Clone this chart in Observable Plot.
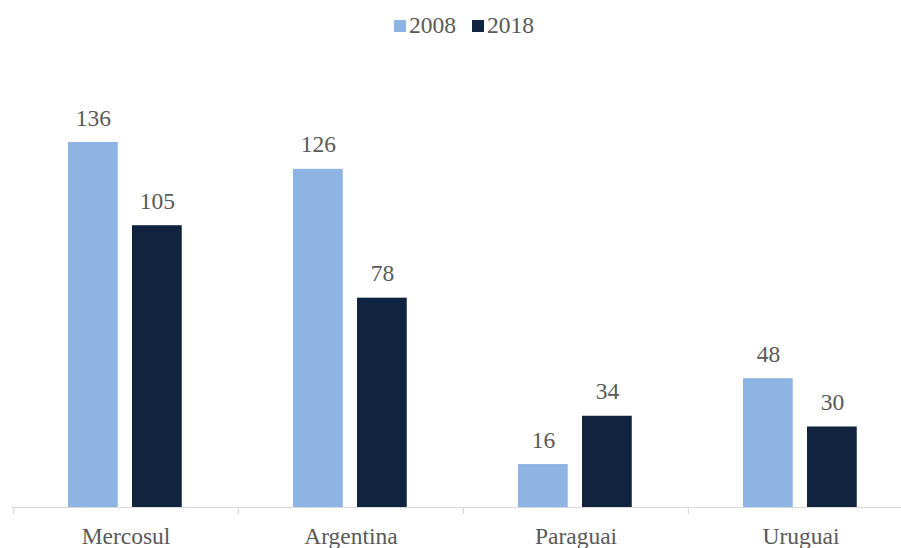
<!DOCTYPE html>
<html>
<head>
<meta charset="utf-8">
<script src="https://cdn.jsdelivr.net/npm/d3@7"></script>
<script src="https://cdn.jsdelivr.net/npm/@observablehq/plot@0.6"></script>
<style>
  html, body { margin: 0; padding: 0; background: #fff; }
  #wrap { position: relative; width: 901px; height: 548px; font-family: "Liberation Serif", "Times New Roman", serif; }
  #legend { position: absolute; top: 12px; left: 394px; display: flex; align-items: center; font-size: 23.5px; color: #595959; }
  .sw { display: inline-block; width: 12px; height: 12px; margin-right: 3px; }
  .item { display: flex; align-items: center; margin-right: 16px; }
  svg text { font-family: "Liberation Serif", "Times New Roman", serif; }
</style>
</head>
<body>
<div id="wrap"><div id="legend"></div></div>
<script>
const categories = ["Mercosul", "Argentina", "Paraguai", "Uruguai"];
const years = ["2008", "2018"];
const values2008 = [136, 126, 16, 48];
const values2018 = [105, 78, 34, 30];
const colors = ["#8EB4E3", "#10243F"];

const data2008 = categories.map((c, i) => ({category: c, year: years[0], value: values2008[i]}));
const data2018 = categories.map((c, i) => ({category: c, year: years[1], value: values2018[i]}));

const font = "'Liberation Serif', 'Times New Roman', serif";
const textColor = "#595959";

const chart = Plot.plot({
  width: 901,
  height: 548,
  marginLeft: 12,
  marginRight: 0,
  marginTop: 142,
  marginBottom: 41,
  style: {fontFamily: font, fontSize: "23.5px", color: textColor, background: "white", overflow: "visible"},
  x: {type: "band", domain: categories, range: [12, 913], padding: 0, label: null},
  y: {domain: [0, 136], axis: null},
  color: {domain: years, range: colors},
  marks: [
    Plot.barY(data2008, {x: "category", y: "value", fill: "year", insetLeft: 55, insetRight: 120.25}),
    Plot.barY(data2018, {x: "category", y: "value", fill: "year", insetLeft: 119, insetRight: 56.25}),
    Plot.text(data2008, {x: "category", y: "value", text: d => String(d.value), dx: -32.6, dy: -17, lineAnchor: "bottom", fill: textColor, fontSize: 23.5}),
    Plot.text(data2018, {x: "category", y: "value", text: d => String(d.value), dx: 31.4, dy: -17, lineAnchor: "bottom", fill: textColor, fontSize: 23.5}),
    Plot.ruleY([0], {stroke: "#D9D9D9", strokeWidth: 1.2}),
    Plot.ruleX(categories, {x: d => d, dx: -112.6, y1: 0, y2: 0, insetBottom: -7, stroke: "#D9D9D9", strokeWidth: 1.2}),
    Plot.axisX({tickSize: 0, tickPadding: 20, fontSize: 23.5, fill: textColor, lineAnchor: "top"})
  ]
});
document.getElementById("wrap").appendChild(chart);

const legend = document.getElementById("legend");
years.forEach((y, i) => {
  const item = document.createElement("span");
  item.className = "item";
  const sw = document.createElement("span");
  sw.className = "sw";
  sw.style.background = colors[i];
  item.appendChild(sw);
  item.appendChild(document.createTextNode(y));
  legend.appendChild(item);
});
</script>
</body>
</html>
